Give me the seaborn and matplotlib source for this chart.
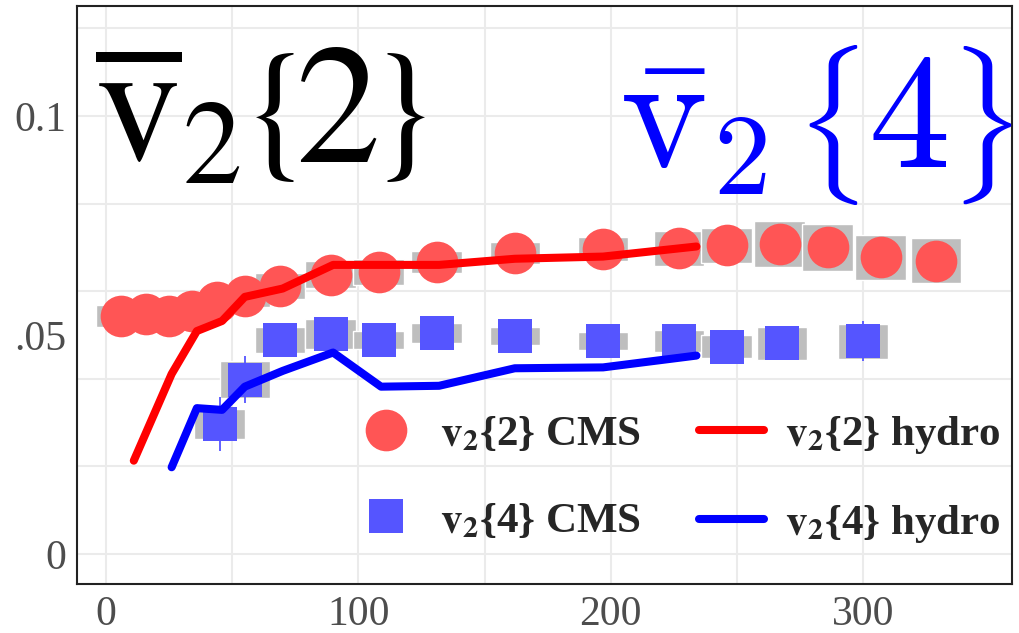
import numpy as np
import matplotlib
matplotlib.use("Agg")
import matplotlib.pyplot as plt
from matplotlib.lines import Line2D
import seaborn as sns

# CMS data points (multiplicity, v2) with systematic box half-heights
cms_x2 = [6, 16, 25, 34, 44, 55, 69, 89, 108, 131, 162, 197, 227, 246, 267, 286, 307, 329]
cms_v22 = [0.0544, 0.0548, 0.0544, 0.0555, 0.0575, 0.0590, 0.0612, 0.0638, 0.0644,
           0.0666, 0.0688, 0.0696, 0.0698, 0.0705, 0.0708, 0.0700, 0.0677, 0.0670]
cms_sys22 = [0.0025, 0.0025, 0.0025, 0.0025, 0.0025, 0.0025, 0.003, 0.003, 0.003,
             0.0025, 0.0025, 0.0028, 0.004, 0.004, 0.0053, 0.0053, 0.0052, 0.0052]

cms_x4 = [45, 55, 69, 89, 108, 131, 162, 197, 227, 246, 268, 300]
cms_v24 = [0.0296, 0.0398, 0.0489, 0.0502, 0.0489, 0.0504, 0.0498, 0.0486, 0.0486,
           0.0473, 0.0481, 0.0486]
cms_sys24 = [0.0034, 0.0042, 0.0029, 0.0034, 0.002, 0.0023, 0.002, 0.002, 0.0025,
             0.0026, 0.0038, 0.004]
cms_stat24 = [0.0062, 0.0053, 0.003, 0.003, 0.003, 0.003, 0.003, 0.003, 0.003,
              0.003, 0.003, 0.0046]

# hydro curves
hydro_x = [11, 26, 36, 46, 55, 70, 90, 109, 132, 162, 197, 234]
hydro_v22 = [0.0213, 0.0411, 0.0509, 0.0532, 0.0587, 0.0606, 0.0660, 0.0660, 0.0660,
             0.0674, 0.0679, 0.0702]
hydro_v24 = [0.0198, 0.0333, 0.0329, 0.0382, 0.0418, 0.0460, 0.0382, 0.0384, 0.0424,
             0.0426, 0.0453]

xticks = [0, 100, 200, 300]
yticks = [0, 0.05, 0.1]
ytick_labels = ["0", ".05", "0.1"]

sns.set_theme(style="white")
plt.rcParams['font.family'] = ['Liberation Serif', 'DejaVu Serif']

W, H = 1020, 633
fig = plt.figure(figsize=(W / 100, H / 100), dpi=100)
ax = fig.add_axes([0.0755, 0.0774, 0.9165, 0.9131])

# systematic boxes
v22 = np.array(cms_v22); s22 = np.array(cms_sys22)
v24 = np.array(cms_v24); s24 = np.array(cms_sys24)
ax.bar(cms_x2, 2 * s22, bottom=v22 - s22, width=20, color='#BEBEBE', zorder=1)
ax.bar(cms_x4, 2 * s24, bottom=v24 - s24, width=20, color='#BEBEBE', zorder=1)
ax.errorbar(cms_x4, cms_v24, yerr=cms_stat24, fmt='none', ecolor='#5555FF',
            elinewidth=1.3, capsize=0, zorder=2)

sns.scatterplot(x=cms_x2, y=cms_v22, marker='o', s=900, color='#FF5555',
                linewidth=0, ax=ax, zorder=3, legend=False)
sns.scatterplot(x=cms_x4, y=cms_v24, marker='s', s=625, color='#5555FF',
                linewidth=0, ax=ax, zorder=3, legend=False)

sns.lineplot(x=hydro_x, y=hydro_v22, color='#FF0000', lw=5.8, ax=ax, zorder=4,
             solid_capstyle='round', errorbar=None)
sns.lineplot(x=hydro_x[1:], y=hydro_v24, color='#0000FF', lw=5.8, ax=ax, zorder=4,
             solid_capstyle='round', errorbar=None)

ax.set_xlim(-11.5, 359)
ax.set_ylim(-0.00685, 0.1251)
ax.set_xticks(xticks)
ax.set_yticks(yticks)
ax.set_yticklabels(ytick_labels)
ax.set_xticks(np.arange(0, 301, 50), minor=True)
ax.set_yticks(np.arange(0, 0.121, 0.02), minor=True)
ax.xaxis.remove_overlapping_locs = False
ax.yaxis.remove_overlapping_locs = False
ax.grid(False)
ax.grid(which='minor', color='#EBEBEB', lw=1.5)
ax.set_axisbelow(True)
ax.tick_params(which='major', direction='in', length=6, width=1, color='#333333',
               labelsize=30, labelcolor='#4D4D4D', pad=8)
ax.tick_params(which='minor', length=0)
for sp in ax.spines.values():
    sp.set_color('#222222')
    sp.set_linewidth(1.5)
ax.set_xlabel('')
ax.set_ylabel('')

handles = [
    Line2D([], [], marker='o', ls='', ms=30, color='#FF5555', mew=0),
    Line2D([], [], marker='s', ls='', ms=25, color='#5555FF', mew=0),
    Line2D([], [], color='#FF0000', lw=5.8),
    Line2D([], [], color='#0000FF', lw=5.8),
]
labels = [r'$\mathbf{v_2}${2} CMS', r'$\mathbf{v_2}${4} CMS',
          r'$\mathbf{v_2}${2} hydro', r'$\mathbf{v_2}${4} hydro']
leg = ax.legend(handles, labels, ncol=2, loc='upper left',
                bbox_to_anchor=(354 / W, 1 - 414 / H), bbox_transform=fig.transFigure,
                frameon=False, borderpad=0, borderaxespad=0, handlelength=1.5,
                handletextpad=0.5, columnspacing=1.35, labelspacing=1.1,
                prop={'family': 'Liberation Serif', 'weight': 'bold', 'size': 31,
                      'math_fontfamily': 'stix'})
leg.set_zorder(5)


def label(x, y, s, size, fam, color, va='baseline'):
    # x, y in reference pixels from the top-left corner
    fig.text(x / W, 1 - y / H, s, fontsize=size, math_fontfamily=fam,
             color=color, va=va, ha='left')


# black v2{2} (Times-like)
label(95, 162, r'$\overline{\mathrm{v}}_2$', 122, 'stix', 'black')
label(240, 119, r'$\{$', 108, 'stix', 'black', va='center')
label(295, 162, r'$2$', 122, 'stix', 'black')
label(367, 119, r'$\}$', 108, 'stix', 'black', va='center')

# blue v2{4} (Computer Modern)
label(620, 167, r'$\bar{\mathrm{v}}_2$', 118, 'cm', '#0000FF')
label(794, 125, r'$\{$', 95, 'cm', '#0000FF', va='center')
label(868, 167, r'$4$', 118, 'cm', '#0000FF')
label(948, 125, r'$\}$', 95, 'cm', '#0000FF', va='center')

fig.savefig('out.png', dpi=100)
